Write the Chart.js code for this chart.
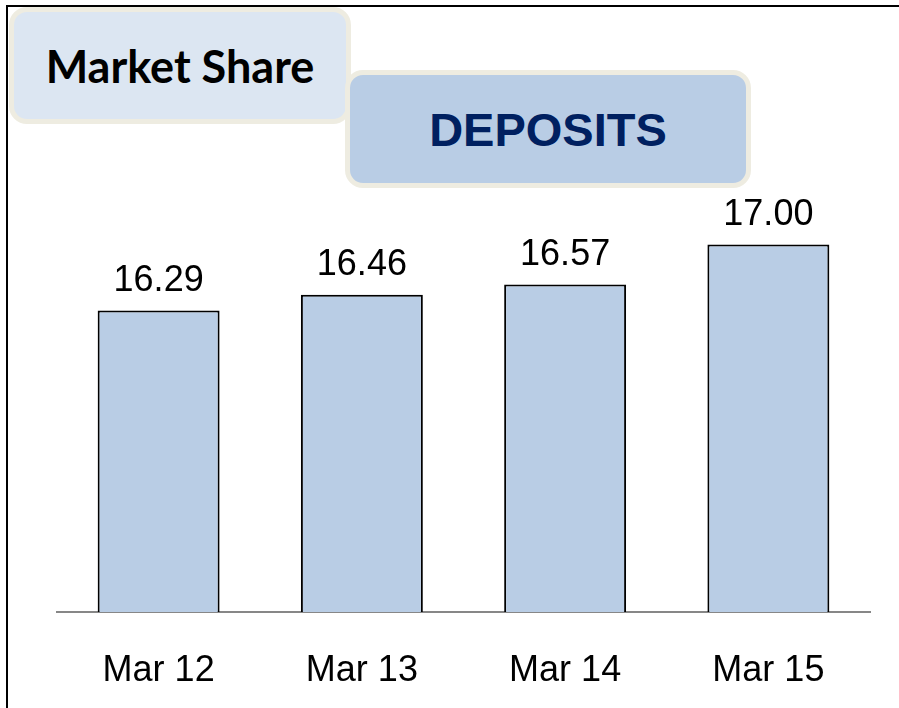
<!DOCTYPE html>
<html>
<head>
<meta charset="utf-8">
<script src="https://cdn.jsdelivr.net/npm/chart.js@4.4.1/dist/chart.umd.min.js"></script>
<style>
  html, body { margin: 0; padding: 0; background: #ffffff; }
  body { width: 899px; height: 708px; position: relative; overflow: hidden; }
  #frame { position: absolute; left: 6px; top: 5px; width: 893px; height: 703px;
           border-top: 2px solid #000; border-left: 2px solid #000; box-sizing: border-box; z-index: 1; }
  #wrap { position: absolute; left: 0; top: 0; width: 899px; height: 708px; }
  .box { position: absolute; box-sizing: border-box; border: 5px solid #eeece1; border-radius: 18px;
         display: flex; align-items: center; justify-content: center; z-index: 2; }
  #ms { left: 9px; top: 7px; width: 342px; height: 117px; background: #dce6f2;
        font-family: "Lato", "Open Sans", sans-serif; font-weight: bold; font-size: 45px; color: #000; }
  #dep { left: 345px; top: 70px; width: 406px; height: 118px; background: #b9cde5; z-index: 3;
         font-family: "Liberation Sans", Arial, sans-serif; font-weight: bold; font-size: 47px; color: #002060; }
</style>
</head>
<body>
<div id="wrap"><canvas id="c" width="899" height="708"></canvas></div>
<div id="frame"></div>
<div class="box" id="ms">Market Share</div>
<div class="box" id="dep">DEPOSITS</div>
<script>
const categories = ["Mar 12", "Mar 13", "Mar 14", "Mar 15"];
const depositShare = [16.29, 16.46, 16.57, 17.00];
const valueLabels = ["16.29", "16.46", "16.57", "17.00"];

const barLabels = {
  id: 'barLabels',
  afterDatasetsDraw(chart) {
    const ctx = chart.ctx;
    const meta = chart.getDatasetMeta(0);
    ctx.save();
    ctx.font = '36px "Liberation Sans", Arial, sans-serif';
    ctx.fillStyle = '#000';
    ctx.textAlign = 'center';
    ctx.textBaseline = 'alphabetic';
    meta.data.forEach((bar, i) => {
      ctx.fillText(valueLabels[i], bar.x, bar.y - 20);
    });
    ctx.restore();
  }
};

new Chart(document.getElementById('c'), {
  type: 'bar',
  data: {
    labels: categories,
    datasets: [{
      data: depositShare,
      backgroundColor: '#b9cde5',
      borderColor: '#000000',
      borderWidth: 2,
      borderSkipped: 'bottom',
      categoryPercentage: 1.0,
      barPercentage: 0.6
    }]
  },
  options: {
    responsive: false,
    animation: false,
    devicePixelRatio: 1,
    layout: { padding: { left: 57, right: 29, top: 198, bottom: 0 } },
    plugins: { legend: { display: false }, tooltip: { enabled: false }, title: { display: false } },
    scales: {
      y: { display: false, min: 13.05, max: 17.5 },
      x: {
        grid: { display: false },
        border: { display: true, color: '#878787', width: 2 },
        ticks: { color: '#000', font: { family: '"Liberation Sans", Arial, sans-serif', size: 36 }, padding: 29, maxRotation: 0 },
        afterFit(scale) { scale.height = 96; }
      }
    }
  },
  plugins: [barLabels]
});
</script>
</body>
</html>
